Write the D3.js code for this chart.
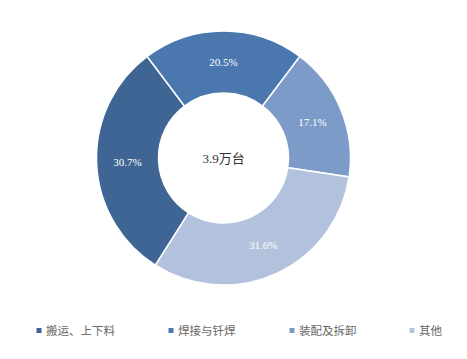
<!DOCTYPE html>
<html><head><meta charset="utf-8">
<script src="https://cdn.jsdelivr.net/npm/d3@7"></script>
<style>body{margin:0;background:#fff}</style>
</head><body><svg id="c" width="467" height="359"></svg>
<script>
const categories = ["搬运、上下料", "焊接与钎焊", "装配及拆卸", "其他"];
const values = [30.7, 20.5, 17.1, 31.6];
const colors = ["#3F6595", "#4A77AE", "#7D9BC8", "#B3C2DC"];
const centerLabel = "3.9万台";

const svg = d3.select("#c");
const cx = 223.5, cy = 158, rOut = 127, rIn = 65;
const total = d3.sum(values);
const start = -(values[0] + values[1] / 2) / total * 2 * Math.PI;
const pie = d3.pie().sort(null).value(d => d).startAngle(start).endAngle(start + 2 * Math.PI);
const arc = d3.arc().innerRadius(rIn).outerRadius(rOut);
const g = svg.append("g").attr("transform", `translate(${cx},${cy})`);
const arcs = pie(values);
g.selectAll("path").data(arcs).join("path")
  .attr("d", arc).attr("fill", (d, i) => colors[i])
  .attr("stroke", "#fff").attr("stroke-width", 1.5);
g.selectAll("text.lbl").data(arcs).join("text").attr("class", "lbl")
  .attr("transform", d => `translate(${arc.centroid(d)})`)
  .attr("text-anchor", "middle").attr("dy", "0.35em")
  .attr("fill", "#fff").attr("font-family", "'Liberation Serif', serif").attr("font-size", 11)
  .text(d => d.data.toFixed(1) + "%");
g.append("text").attr("text-anchor", "middle").attr("dy", "0.35em")
  .attr("fill", "#333").attr("font-family", "'Liberation Serif', 'Noto Sans CJK SC', serif")
  .attr("font-size", 13).text(centerLabel);

const legendX = [39, 171, 292, 412];
const lg = svg.append("g");
categories.forEach((c, i) => {
  lg.append("rect").attr("x", legendX[i] - 2.5).attr("y", 328).attr("width", 5).attr("height", 5).attr("fill", colors[i]);
  lg.append("text").attr("x", legendX[i] + 7).attr("y", 331).attr("dy", "0.35em")
    .attr("fill", "#666").attr("font-family", "'Noto Sans CJK SC', sans-serif").attr("font-size", 11.5)
    .text(c);
});
</script></body></html>
